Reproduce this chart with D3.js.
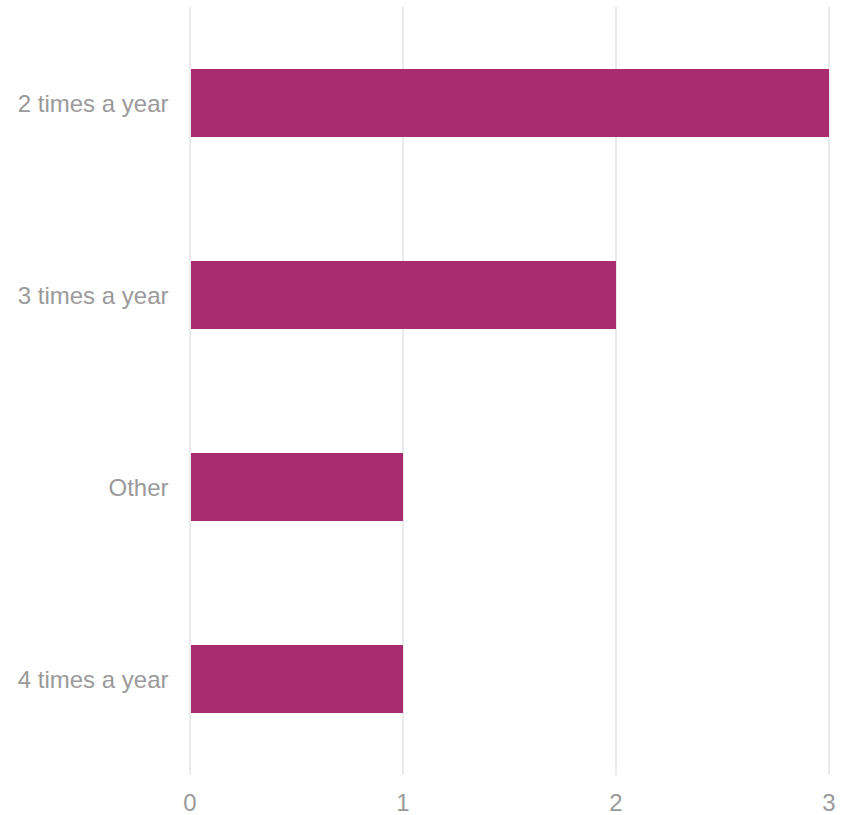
<!DOCTYPE html>
<html><head><meta charset="utf-8">
<script src="https://cdn.jsdelivr.net/npm/d3@7"></script>
<style>body{margin:0;background:#fff}</style>
</head><body>
<svg id="c" width="848" height="815"></svg>
<script>
const categories = ["2 times a year", "3 times a year", "Other", "4 times a year"];
const values = [3, 2, 1, 1];
const xTicks = [0, 1, 2, 3];

const svg = d3.select("#c");
const x = d3.scaleLinear().domain([0, 3]).range([190, 829]);
const y = d3.scaleBand().domain(categories).range([7, 775]).paddingInner(0.646).paddingOuter(0.323);
const font = "Liberation Sans, Arial, sans-serif";

svg.append("g").selectAll("line").data(xTicks).join("line")
  .attr("x1", d => x(d)).attr("x2", d => x(d))
  .attr("y1", 7).attr("y2", 775)
  .attr("stroke", "#ebebeb").attr("stroke-width", 2);

svg.append("g").selectAll("rect").data(values).join("rect")
  .attr("x", x(0) + 1).attr("y", (d, i) => y(categories[i]))
  .attr("width", d => x(d) - x(0) - 1).attr("height", y.bandwidth())
  .attr("fill", "#a82c6f");

svg.append("g").selectAll("text").data(categories).join("text")
  .attr("x", 168.5).attr("y", d => y(d) + y.bandwidth() / 2)
  .attr("text-anchor", "end").attr("dominant-baseline", "central")
  .attr("font-family", font).attr("font-size", 24).attr("fill", "#9a9a9a")
  .text(d => d);

svg.append("g").selectAll("text").data(xTicks).join("text")
  .attr("x", d => x(d)).attr("y", 802)
  .attr("text-anchor", "middle").attr("dominant-baseline", "central")
  .attr("font-family", font).attr("font-size", 24).attr("fill", "#9a9a9a")
  .text(d => d);
</script>
</body></html>
